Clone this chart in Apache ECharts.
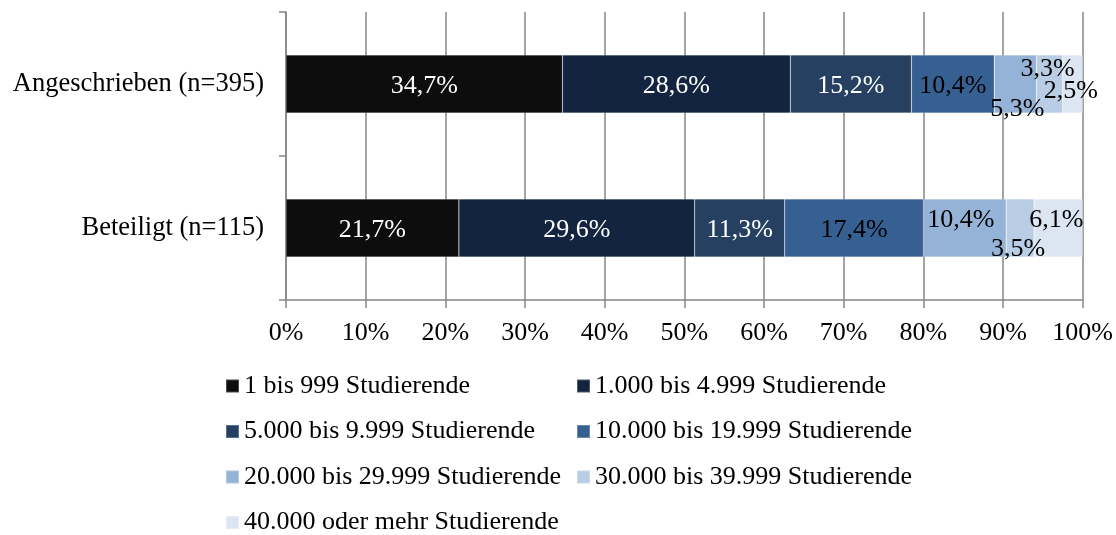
<!DOCTYPE html>
<html>
<head>
<meta charset="utf-8">
<script src="https://cdn.jsdelivr.net/npm/echarts@6/dist/echarts.min.js"></script>
<style>
  html, body { margin: 0; padding: 0; background: #fff; }
  #chart { width: 1116px; height: 535px; }
</style>
</head>
<body>
<div id="chart"></div>
<script>
// Kategorien (von oben nach unten)
const categories = ['Angeschrieben (n=395)', 'Beteiligt (n=115)']
// Größenklassen der Hochschulen
const seriesNames = [
  '1 bis 999 Studierende',
  '1.000 bis 4.999 Studierende',
  '5.000 bis 9.999 Studierende',
  '10.000 bis 19.999 Studierende',
  '20.000 bis 29.999 Studierende',
  '30.000 bis 39.999 Studierende',
  '40.000 oder mehr Studierende'
]
// Anteile in Prozent, je Kategorie
const angeschrieben = [34.7, 28.6, 15.2, 10.4, 5.3, 3.3, 2.5]
const beteiligt = [21.7, 29.6, 11.3, 17.4, 10.4, 3.5, 6.1]
const xTicks = ['0%', '10%', '20%', '30%', '40%', '50%', '60%', '70%', '80%', '90%', '100%']

const colors = ['#0d0d0d', '#12243f', '#254061', '#376092', '#95b3d7', '#b9cde5', '#dce6f2']
const labelColors = ['#fff', '#fff', '#fff', '#000', '#000', '#000', '#000']
// manuell verschobene Beschriftungen (wie im Original) [serie][kategorie] = [dx, dy]
const labelShift = {
  4: [[2, 25], [-4, -8]],
  5: [[-2, -15], [-2, 21]],
  6: [[-2, 7], [-2, -8]]
}
const font = 'Liberation Serif'
const fs = 26

const chart = echarts.init(document.getElementById('chart'))

const series = seriesNames.map((name, i) => {
  const vals = [angeschrieben[i], beteiligt[i]]
  return {
    name: name,
    type: 'bar',
    stack: 'total',
    barWidth: 58,
    itemStyle: { color: colors[i], borderColor: 'rgba(255,255,255,0.25)', borderWidth: 0.6 },
    label: {
      show: true,
      position: 'inside',
      offset: [0, 2],
      color: labelColors[i],
      fontFamily: font,
      fontSize: fs,
      formatter: (p) => p.value.toFixed(1).replace('.', ',') + '%'
    },
    data: vals.map((v, c) => {
      const item = { value: v }
      if (labelShift[i]) {
        item.label = { offset: labelShift[i][c] }
      }
      return item
    })
  }
})

const legendBase = {
  orient: 'vertical',
  top: 372,
  height: 200,
  padding: 0,
  itemWidth: 13,
  itemHeight: 13,
  itemGap: 17.5,
  icon: 'rect',
  textStyle: { fontFamily: font, fontSize: fs, color: '#000', lineHeight: 28 }
}

const option = {
  animation: false,
  backgroundColor: '#fff',
  grid: { left: 286, right: 33, top: 12, bottom: 235, containLabel: false },
  legend: [
    Object.assign({}, legendBase, { left: 225, data: [seriesNames[0], seriesNames[2], seriesNames[4], seriesNames[6]] }),
    Object.assign({}, legendBase, { left: 576, data: [seriesNames[1], seriesNames[3], seriesNames[5]] })
  ],
  xAxis: {
    type: 'value',
    min: 0,
    max: 100,
    interval: 10,
    axisLine: { show: true, lineStyle: { color: '#868686', width: 1.5 } },
    axisTick: { show: true, length: 8, lineStyle: { color: '#868686', width: 1.5 } },
    splitLine: { show: true, lineStyle: { color: '#868686', width: 1.5 } },
    axisLabel: {
      fontFamily: font,
      fontSize: fs,
      color: '#000',
      margin: 20,
      formatter: (v) => xTicks[Math.round(v / 10)]
    }
  },
  yAxis: {
    type: 'category',
    inverse: true,
    data: categories,
    axisLine: { show: true, lineStyle: { color: '#868686', width: 1.5 } },
    axisTick: { show: true, length: 7, lineStyle: { color: '#868686', width: 1.5 } },
    axisLabel: { fontFamily: font, fontSize: 26.5, color: '#000', margin: 22 }
  },
  series: series
}

chart.setOption(option)
</script>
</body>
</html>
